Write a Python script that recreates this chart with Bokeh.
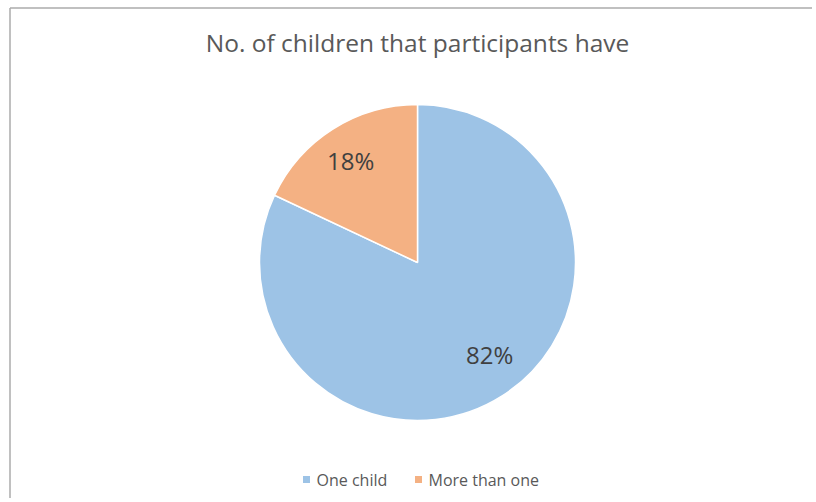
import math
from bokeh.plotting import figure
from bokeh.models import Range1d, ColumnDataSource
from bokeh.core.properties import value
from bokeh.embed import file_html
from bokeh.resources import INLINE

title_text = "No. of children that participants have"
categories = ["One child", "More than one"]
shares = [82, 18]
colors = ["#9DC3E6", "#F4B183"]

W, H = 812, 498
FONT = value("Open Sans")

p = figure(width=W, height=H, output_backend="svg", toolbar_location=None,
           x_range=Range1d(0, W), y_range=Range1d(0, H), min_border=0)
p.axis.visible = False
p.grid.visible = False
p.outline_line_color = None
p.background_fill_color = "white"

# page coordinate helpers (pixel-mapped data space)
def px(xp):
    return xp
def py(yp):
    return H - yp

cx, cy, R = px(417), py(262), 158

# wedge angles: start at top, go clockwise
total = sum(shares)
starts, ends, mids = [], [], []
a = math.pi / 2
for s in shares:
    sweep = 2 * math.pi * s / total
    starts.append(a - sweep)
    ends.append(a)
    mids.append(a - sweep / 2)
    a -= sweep

src = ColumnDataSource(dict(start=starts, end=ends, color=colors))
p.wedge(x=cx, y=cy, radius=R, start_angle="start", end_angle="end",
        fill_color="color", line_color="white", line_width=1.5, source=src)

# data labels
lab_r = [0.74 * R, 0.77 * R]
lab_shift = [0.099, 0.016]
lx = [cx + lab_r[i] * math.cos(mids[i] + lab_shift[i]) for i in range(len(shares))]
ly = [cy + lab_r[i] * math.sin(mids[i] + lab_shift[i]) for i in range(len(shares))]
p.text(x=lx, y=ly, text=[f"{s}%" for s in shares], text_font=FONT,
       text_font_size="24px", text_color="#404040", text_align="center",
       text_baseline="middle")

# title
p.text(x=[px(417)], y=[py(42)], text=[title_text], text_font=FONT,
       text_font_size="24.5px", text_color="#595959", text_align="center",
       text_baseline="middle")

# legend
leg_sq_x = [px(306), px(418)]
leg_y = py(479)
p.rect(x=leg_sq_x, y=[leg_y] * 2, width=7, height=7, fill_color=colors,
       line_color=None)
p.text(x=[x + 10 for x in leg_sq_x], y=[leg_y] * 2, text=categories,
       text_font=FONT, text_font_size="16px", text_color="#595959",
       text_align="left", text_baseline="middle")

# chart area border (top and left edges visible)
p.line(x=[px(9.5), W], y=[py(7.5), py(7.5)], line_color="#ababab", line_width=1.5)
p.line(x=[px(9.5), px(9.5)], y=[py(7.5), 0], line_color="#ababab", line_width=1.5)

open("out.html", "w").write(file_html(p, INLINE))
